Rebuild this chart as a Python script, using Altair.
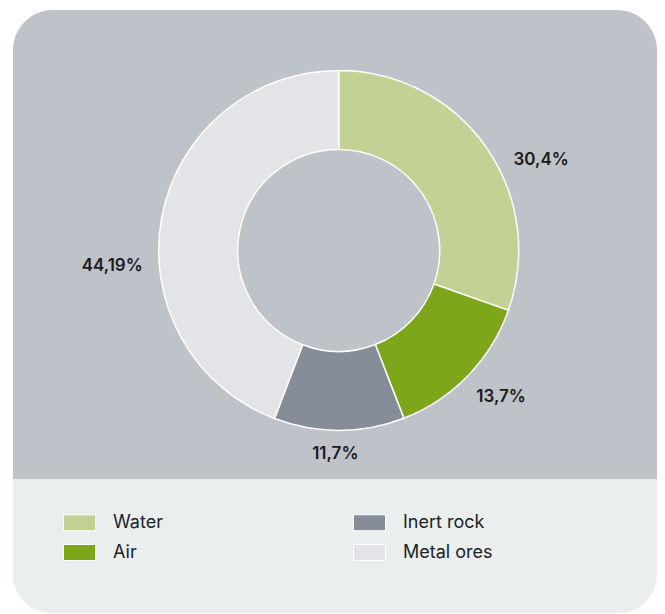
import altair as alt
import pandas as pd

categories = ["Water", "Air", "Inert rock", "Metal ores"]
shares = [30.4, 13.7, 11.7, 44.19]
labels = ["30,4%", "13,7%", "11,7%", "44,19%"]
colors = ["#c2d295", "#7ea61a", "#858e98", "#e3e4e8"]

total = sum(shares)
df = pd.DataFrame({"category": categories, "share": shares, "label": labels,
                   "order": list(range(len(categories)))})

W, H = 649, 605
CX, CY = 330.7, 242.4
R_OUT, R_IN = 180, 101

theta_scale = alt.Scale(domain=[0, total])
one = pd.DataFrame({"a": [0]})

panel_top = alt.Chart(one).mark_rect(
    color="#bec2c9", cornerRadiusTopLeft=40, cornerRadiusTopRight=40
).encode(x=alt.value(5), x2=alt.value(649), y=alt.value(2), y2=alt.value(471))

panel_bottom = alt.Chart(one).mark_rect(
    color="#e9efef", cornerRadiusBottomLeft=38, cornerRadiusBottomRight=38
).encode(x=alt.value(5), x2=alt.value(649), y=alt.value(471), y2=alt.value(605))

arcs = alt.Chart(df).mark_arc(
    outerRadius=R_OUT, innerRadius=R_IN, stroke="white", strokeWidth=1.5
).encode(
    theta=alt.Theta("share:Q", stack=True, scale=theta_scale),
    order=alt.Order("order:Q"),
    color=alt.Color(
        "category:N",
        scale=alt.Scale(domain=categories, range=colors),
        legend=alt.Legend(
            orient="none", legendX=55, legendY=498, columns=2,
            columnPadding=188, rowPadding=3,
            symbolType="M-1,-0.5H1V0.5H-1Z", symbolSize=1024,
            symbolStrokeColor="white", symbolStrokeWidth=1, symbolOpacity=1,
            labelFont="Inter", labelFontSize=18, labelColor="#222222",
            labelOffset=17, title=None,
        ),
    ),
    x=alt.value(CX), y=alt.value(CY),
)

offsets = {"Water": (27, 34), "Air": (8, -3), "Inert rock": (-4, -11), "Metal ores": (-15, 55)}
text_layers = []
for cat in categories:
    dx, dy = offsets[cat]
    t = alt.Chart(df).transform_window(
        cum="sum(share)", sort=[{"field": "order"}]
    ).transform_calculate(
        mid="datum.cum - datum.share / 2"
    ).transform_filter(
        alt.datum.category == cat
    ).mark_text(
        radius=215, dx=dx, dy=dy, font="Inter", fontSize=17, fontWeight=600,
        color="#1b1b1b", align="center", baseline="middle"
    ).encode(
        theta=alt.Theta("mid:Q", stack=None, scale=theta_scale),
        text="label:N",
        x=alt.value(CX), y=alt.value(CY),
    )
    text_layers.append(t)

chart = alt.layer(panel_top, panel_bottom, arcs, *text_layers).properties(
    width=W, height=H, padding=0, background="white",
    autosize=alt.AutoSizeParams(type="none"),
).configure_view(stroke=None)

chart.save("out.html", embed_options={"renderer": "svg", "actions": False})
